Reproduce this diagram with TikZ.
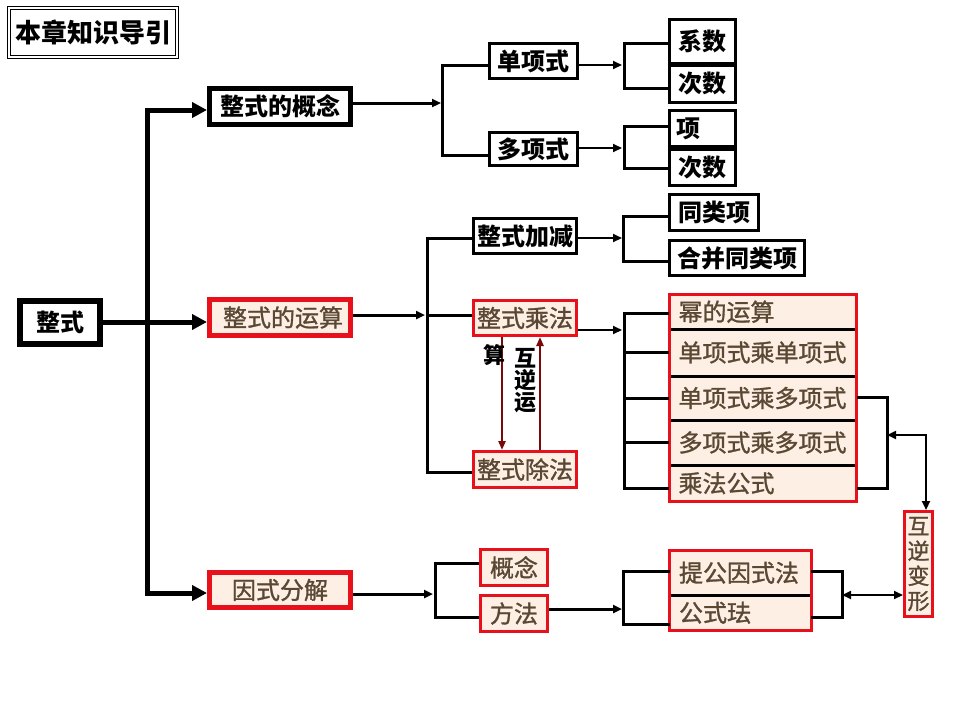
\documentclass[tikz,border=0pt]{standalone}
\usepackage{fontspec}
\setmainfont{Noto Sans CJK SC}
\newfontfamily\medfont{Noto Sans CJK SC}[FakeBold=1.2]
\usetikzlibrary{arrows.meta,calc}
\definecolor{boxred}{HTML}{E8101A}
\definecolor{beige}{HTML}{FDEFE3}
\definecolor{brn}{HTML}{5A4834}
\definecolor{dred}{HTML}{7A0A0A}
\begin{document}
\begin{tikzpicture}[x=1pt,y=-1pt,
  every node/.style={inner sep=0pt},
  txt/.style={font=\fontsize{24}{26}\selectfont\bfseries},
  rtxt/.style={font=\fontsize{24}{26}\selectfont\medfont, text=brn},
  bbox/.style={txt, draw=black, line width=3pt, fill=white},
  rbox/.style={rtxt, draw=boxred, line width=3pt, fill=beige},
  rowbox/.style={rtxt, fill=beige, text width=169pt, inner xsep=9pt, align=left},
  divider/.style={draw=black, line width=3pt},
  trunk/.style={line width=5pt},
  arrA/.style={-{Triangle[length=15pt,width=15pt]}},
  brk/.style={line width=3pt},
  thinl/.style={line width=2pt},
  arrB/.style={-{Triangle[length=9pt,width=8pt]}},
  ]
\useasboundingbox (0,0) rectangle (960,720);

% title
\node[draw, double, double distance=2pt, line width=1.2pt, minimum width=168pt, minimum height=49pt, font=\fontsize{26}{28}\selectfont\bfseries] (title) at (93,32.5) {本章知识导引};

% level 1
\node[bbox, line width=6pt, minimum width=80pt, minimum height=43pt] (zs) at (60,322) {整式};
\node[bbox, line width=5pt, minimum width=141pt, minimum height=36pt] (gn) at (280,106.5) {整式的概念};
\node[rbox, line width=5pt, minimum width=141pt, minimum height=36pt] (ysd) at (280,317.5) {\hspace{6pt}整式的运算};
\node[rbox, line width=5pt, minimum width=141pt, minimum height=35pt] (ysfj) at (280,590) {因式分解};

% level 2 (concept)
\node[bbox, minimum width=88pt, minimum height=35pt] (dxs) at (533.5,61) {单项式};
\node[bbox, minimum width=88pt, minimum height=33pt] (dxs2) at (533.5,149) {多项式};
\node[bbox, minimum width=66pt, minimum height=44pt] (xs) at (702.5,41.5) {系数};
\node[bbox, minimum width=66pt, minimum height=37pt] (cs1) at (702.5,83.5) {次数};
\node[bbox, minimum width=66pt, minimum height=36pt, text width=52pt, inner xsep=7pt, align=left] (xiang) at (702.5,128.5) {项\\[-8pt]};
\node[bbox, minimum width=66pt, minimum height=36pt] (cs2) at (702.5,167) {次数};

% level 2 (operations)
\node[bbox, minimum width=103pt, minimum height=35pt] (jj) at (525,236) {整式加减};
\node[rbox, minimum width=103pt, minimum height=35pt] (cf) at (525,318) {整式乘法};
\node[rbox, minimum width=103pt, minimum height=36pt] (cfa) at (525,469.5) {整式除法};
\node[bbox, minimum width=89pt, minimum height=36pt] (tlx) at (714,212.5) {同类项};
\node[bbox, minimum width=135pt, minimum height=35pt] (hb) at (737,258) {合并同类项};

% multiplication stack
\node[rowbox, minimum height=34.5pt] (r1) at (763,311.75) {幂的运算};
\node[rowbox, minimum height=47pt] (r2) at (763,352.5) {单项式乘单项式};
\node[rowbox, minimum height=44pt] (r3) at (763,398) {单项式乘多项式};
\node[rowbox, minimum height=45pt] (r4) at (763,442.5) {多项式乘多项式};
\node[rowbox, minimum height=36.5pt] (r5) at (763,483.25) {乘法公式};
\draw[divider] (r1.south west) -- (r1.south east);
\draw[divider] (r2.south west) -- (r2.south east);
\draw[divider] (r3.south west) -- (r3.south east);
\draw[divider] (r4.south west) -- (r4.south east);
\draw[draw=boxred, line width=3pt] (r1.north west) rectangle (r5.south east);

% factorisation
\node[rbox, minimum width=67pt, minimum height=36pt] (gn2) at (514,567.5) {概念};
\node[rbox, minimum width=67pt, minimum height=36pt] (ff) at (514,613.5) {方法};
\node[rowbox, text width=123pt, minimum height=44.5pt] (f1) at (740.5,572.75) {提公因式法};
\node[rowbox, text width=123pt, minimum height=35.5pt] (f2) at (740.5,612.75) {公式珐};
\draw[divider] (f1.south west) -- (f1.south east);
\draw[draw=boxred, line width=3pt] (f1.north west) rectangle (f2.south east);

\node[rbox, minimum width=28pt, minimum height=105pt, align=center, font=\fontsize{22}{25}\selectfont\medfont] (hn) at (918.5,564) {互\\逆\\变\\形};

% level 1 connectors
\coordinate (t1) at (147,110);
\coordinate (t3) at (147,593);
\draw[trunk, line cap=rect] (t1) -- (t3);
\draw[trunk, arrA] (t1) -- (t1 -| gn.west);
\draw[trunk, arrA] (t3) -- (t3 -| ysfj.west);
\draw[trunk, arrA] (zs.east) -- (zs.east -| ysd.west);

% concept branch
\coordinate (a1) at (441,103);
\coordinate (a1t) at (442,65);
\coordinate (a1b) at (442,155);
\draw[brk, arrB] (gn.east |- a1) -- (a1);
\draw[brk] (dxs.west |- a1t) -- (a1t) -- (a1b) -- (dxs2.west |- a1b);
\coordinate (a2) at (622,65);
\coordinate (a2t) at (624,43);
\coordinate (a2b) at (624,88);
\draw[thinl, arrB] (dxs.east |- a2) -- (a2);
\draw[brk] (xs.west |- a2t) -- (a2t) -- (a2b) -- (cs1.west |- a2b);
\coordinate (a3) at (622,148);
\coordinate (a3t) at (624,126);
\coordinate (a3b) at (624,168);
\draw[thinl, arrB] (dxs2.east |- a3) -- (a3);
\draw[brk] (xiang.west |- a3t) -- (a3t) -- (a3b) -- (cs2.west |- a3b);

% operations branch
\coordinate (b1) at (425,315);
\coordinate (b1t) at (427,238);
\coordinate (b1m) at (427,315);
\coordinate (b1b) at (427,472);
\draw[brk, arrB] (ysd.east |- b1) -- (b1);
\draw[brk] (jj.west |- b1t) -- (b1t) -- (b1b) -- (cfa.west |- b1b);
\draw[brk] (b1m) -- (cf.west |- b1m);
\coordinate (b2) at (622,238);
\coordinate (b2t) at (623,216);
\coordinate (b2b) at (623,261);
\draw[thinl, arrB] (jj.east |- b2) -- (b2);
\draw[brk] (tlx.west |- b2t) -- (b2t) -- (b2b) -- (hb.west |- b2b);
\coordinate (b3) at (622,330);
\coordinate (b3t) at (624,313);
\coordinate (b3b) at (624,488);
\draw[thinl, arrB] (cf.east |- b3) -- (b3);
\draw[brk] (r1.west |- b3t) -- (b3t) -- (b3b) -- (r5.west |- b3b);
\draw[brk] (b3t |- r2.west) -- (r2.west);
\draw[brk] (b3t |- r3.west) -- (r3.west);
\draw[brk] (b3t |- r4.west) -- (r4.west);

% mutual inverse arrows
\draw[dred, line width=2.5pt, -{Triangle[length=9pt,width=7pt]}] ($(cf.south)+(-23,0)$) -- ($(cfa.north)+(-23,0)$);
\draw[dred, line width=2.5pt, -{Triangle[length=9pt,width=7pt]}] ($(cfa.north)+(15,0)$) -- ($(cf.south)+(15,0)$);
\node[font=\fontsize{22}{24}\selectfont\bfseries] (suan) at (494,355) {算};
\node[font=\fontsize{22}{22}\selectfont\bfseries, align=center] (hny) at (525,381) {互\\逆\\运};

% right bracket of multiplication
\coordinate (c1t) at (887,397);
\coordinate (c1b) at (887,488);
\coordinate (c1m) at (887,435);
\coordinate (c1r) at (926,435);
\draw[brk] (r3.east |- c1t) -- (c1t) -- (c1b) -- (r5.east |- c1b);
\draw[thinl, {Triangle[length=9pt,width=8pt]}-{Triangle[length=9pt,width=8pt]}] (c1m) -- (c1r) -- (c1r |- hn.north);

% factorisation connectors
\coordinate (d1) at (433,594);
\coordinate (d1t) at (435,563);
\coordinate (d1b) at (435,617);
\draw[brk, arrB] (ysfj.east |- d1) -- (d1);
\draw[brk] (gn2.west |- d1t) -- (d1t) -- (d1b) -- (ff.west |- d1b);
\coordinate (d2) at (622,609);
\coordinate (d2t) at (623,571);
\coordinate (d2b) at (623,624);
\draw[brk, arrB] (ff.east |- d2) -- (d2);
\draw[brk] (f1.west |- d2t) -- (d2t) -- (d2b) -- (f2.west |- d2b);
\coordinate (d3t) at (842,571);
\coordinate (d3b) at (842,617);
\coordinate (d3m) at (842,595);
\draw[brk] (f1.east |- d3t) -- (d3t) -- (d3b) -- (f2.east |- d3b);
\draw[thinl, {Triangle[length=9pt,width=8pt]}-{Triangle[length=9pt,width=8pt]}] (d3m) -- (d3m -| hn.west);
\end{tikzpicture}
\end{document}
